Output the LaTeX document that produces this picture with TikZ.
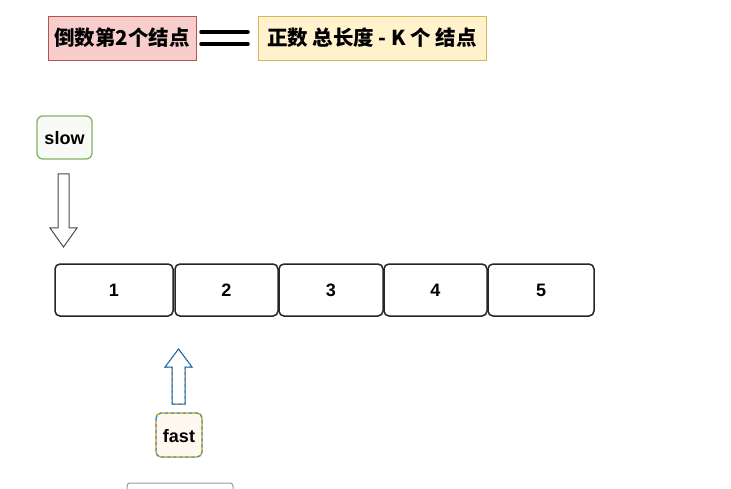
\documentclass[tikz,border=0pt]{standalone}
\usepackage{fontspec}
\setmainfont{Liberation Sans}
\newfontfamily\cjk{Noto Sans CJK SC}
\begin{document}
\begin{tikzpicture}[x=1pt,y=-1pt,
  cell/.style={draw=black!85,line width=1.5pt,rounded corners=5pt,fill=white},
  lbl/.style={font=\bfseries\fontsize{18}{20}\selectfont},
  cjklbl/.style={font=\cjk\bfseries\fontsize{20.5}{22}\selectfont}]
\useasboundingbox (0,0) rectangle (731,489);
\fill[white] (0,0) rectangle (731,489);
% top
\draw[draw={rgb,255:red,184;green,84;blue,80},fill={rgb,255:red,248;green,206;blue,204}] (48,16) rectangle (196,60);
\node[cjklbl] (a) at (122,38) {倒数第2个结点};
\draw[draw={rgb,255:red,214;green,182;blue,86},fill={rgb,255:red,255;green,242;blue,204}] (258,16) rectangle (486,60);
\node[cjklbl] (b) at (372,38) {正数 总长度 - K 个 结点};
\draw[line width=3.5pt,line cap=round] (201,32) -- (248,32);
\draw[line width=3.5pt,line cap=round] (201,44) -- (248,44);
% slow
\draw[draw={rgb,255:red,130;green,179;blue,102},line width=1.3pt,rounded corners=6pt,fill={rgb,255:red,248;green,250;blue,245}] (37,116) rectangle (92,159);
\node[lbl] (slow) at (64.5,138) {slow};
\draw[black!70,line width=1pt,fill=white] (58,174) -- (69,174) -- (69,228) -- (77,228) -- (63.5,247) -- (50,228) -- (58,228) -- cycle;
% cells
\draw[cell] (55,264) rectangle (173,316); \node[lbl] (c1) at (114,290) {1};
\draw[cell] (175,264) rectangle (278,316); \node[lbl] (c2) at (226.5,290) {2};
\draw[cell] (279,264) rectangle (383,316); \node[lbl] (c3) at (331,290) {3};
\draw[cell] (384,264) rectangle (487,316); \node[lbl] (c4) at (435.5,290) {4};
\draw[cell] (488,264) rectangle (594,316); \node[lbl] (c5) at (541,290) {5};
% up arrow
\draw[black!70,line width=1pt,fill=white] (172,404) -- (185,404) -- (185,367) -- (192,367) -- (178.5,349) -- (165,367) -- (172,367) -- cycle;
\draw[draw={rgb,255:red,0;green,153;blue,255},dashed,line width=1pt] (172,404) -- (185,404) -- (185,367) -- (192,367) -- (178.5,349) -- (165,367) -- (172,367) -- cycle;
% fast
\draw[draw={rgb,255:red,215;green,155;blue,0},line width=1.3pt,rounded corners=5pt,fill={rgb,255:red,255;green,248;blue,240}] (156,413) rectangle (202,457);
\draw[draw={rgb,255:red,0;green,153;blue,255},dashed,line width=1pt,rounded corners=5pt] (156,413) rectangle (202,457);
\node[lbl] (fast) at (179,436) {fast};
% bottom partial box
\draw[black!40,line width=1pt,rounded corners=3pt] (127,495) -- (127,483) -- (233,483) -- (233,495);
\end{tikzpicture}
\end{document}
